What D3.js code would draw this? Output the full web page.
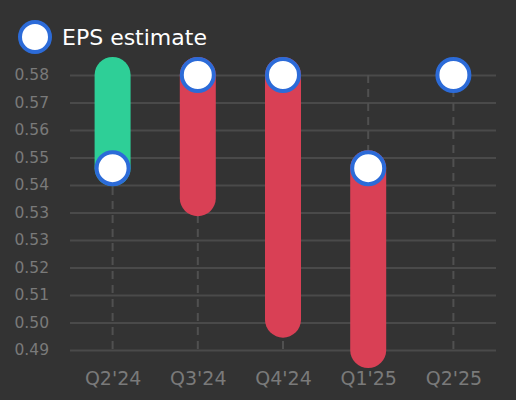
<!DOCTYPE html>
<html>
<head>
<meta charset="utf-8">
<script src="https://cdn.jsdelivr.net/npm/d3@7"></script>
<style>
  html, body { margin: 0; padding: 0; background: #333333; }
  svg { display: block; font-family: "DejaVu Sans", sans-serif; }
</style>
</head>
<body>
<svg width="516" height="400"></svg>
<script>
// quarters and EPS values
var quarters = ["Q2'24", "Q3'24", "Q4'24", "Q1'25", "Q2'25"];
var epsEstimate = [0.549, 0.58, 0.58, 0.549, 0.58];
var epsActual = [0.58, 0.539, 0.4986, 0.4885, null];
var legendLabel = "EPS estimate";

var drawChart = function(){
  var svg = d3.select('svg');
  var margin = {top: 75, bottom: 50, left: 70, right: 20};
  var width = 516, height = 400;

  var rows = quarters.map(function(q, i){
    return {q: q, est: epsEstimate[i], act: epsActual[i]};
  });

  var all = epsEstimate.concat(epsActual.filter(function(v){ return v != null; }));
  var lo = d3.min(all), hi = d3.max(all);

  var x = d3.scalePoint()
    .domain(quarters)
    .range([margin.left, width - margin.right])
    .padding(0.5);
  var y = d3.scaleLinear()
    .domain([lo, hi])
    .range([height - margin.bottom, margin.top]);

  // 10 even steps between the lowest and highest value
  var yTicks = d3.range(11).map(function(i){ return lo + i * (hi - lo) / 10; });

  var yAxis = d3.axisLeft(y)
    .tickValues(yTicks)
    .tickFormat(d3.format('.2f'))
    .tickSize(-(width - margin.left - margin.right))
    .tickPadding(21);
  var yGroup = svg.append('g')
    .attr('transform', 'translate(' + margin.left + ',0)')
    .call(yAxis);
  yGroup.select('.domain').remove();
  yGroup.selectAll('line').attr('stroke', '#4a4a4a').attr('stroke-width', 2);
  yGroup.selectAll('text')
    .attr('fill', '#7a7a7a')
    .attr('font-size', 15.5)
    .attr('font-family', 'DejaVu Sans');

  // dashed vertical lines per quarter
  svg.append('g').selectAll('line')
    .data(quarters)
    .enter().append('line')
    .attr('x1', function(d){ return x(d); })
    .attr('x2', function(d){ return x(d); })
    .attr('y1', y(hi))
    .attr('y2', y(lo))
    .attr('stroke', '#505050')
    .attr('stroke-width', 2)
    .attr('stroke-dasharray', '8,6');

  var xAxis = d3.axisBottom(x).tickSize(0).tickPadding(0);
  var xGroup = svg.append('g')
    .attr('transform', 'translate(0,' + (height - margin.bottom) + ')')
    .call(xAxis);
  xGroup.select('.domain').remove();
  xGroup.selectAll('text')
    .attr('fill', '#7a7a7a')
    .attr('font-size', 19)
    .attr('font-family', 'DejaVu Sans')
    .attr('dy', null)
    .attr('y', 35);

  var barW = 36;
  svg.append('g').selectAll('rect')
    .data(rows.filter(function(d){ return d.act != null; }))
    .enter().append('rect')
    .attr('x', function(d){ return x(d.q) - barW / 2; })
    .attr('y', function(d){ return y(Math.max(d.est, d.act)) - barW / 2; })
    .attr('width', barW)
    .attr('height', function(d){ return Math.abs(y(d.est) - y(d.act)) + barW; })
    .attr('rx', barW / 2)
    .attr('fill', function(d){ return d.act >= d.est ? '#2ecf97' : '#d94055'; });

  svg.append('g').selectAll('circle')
    .data(rows)
    .enter().append('circle')
    .attr('cx', function(d){ return x(d.q); })
    .attr('cy', function(d){ return y(d.est); })
    .attr('r', 16)
    .attr('fill', '#ffffff')
    .attr('stroke', '#2c6bd8')
    .attr('stroke-width', 4);

  // legend
  var legend = svg.append('g');
  legend.append('circle')
    .attr('cx', 35).attr('cy', 37).attr('r', 15)
    .attr('fill', '#ffffff')
    .attr('stroke', '#2c6bd8')
    .attr('stroke-width', 4);
  legend.append('text')
    .attr('x', 62).attr('y', 45)
    .attr('fill', '#ffffff')
    .attr('font-size', 22)
    .text(legendLabel);
};

drawChart();
</script>
</body>
</html>
